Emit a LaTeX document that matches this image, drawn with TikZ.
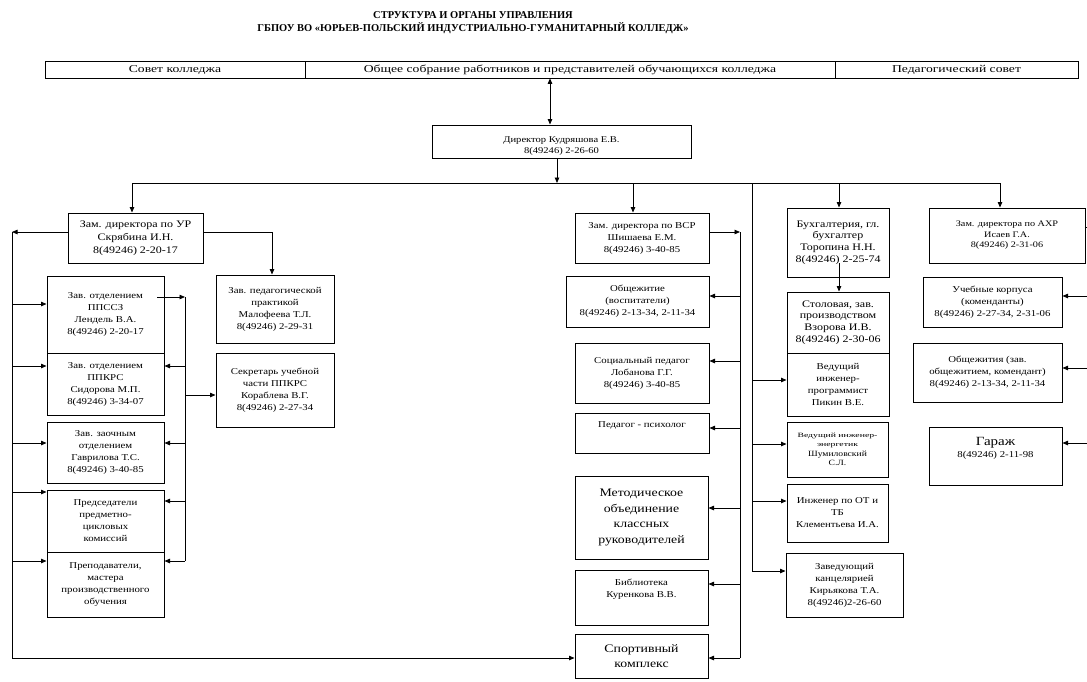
\documentclass[tikz,border=0pt]{standalone}
\usepackage{fontspec}
\setmainfont[FakeStretch=1.2]{Liberation Serif}
\newfontfamily\barff[FakeStretch=1.3]{Liberation Serif}
\newfontfamily\ttlff{Liberation Serif}
\newfontfamily\wideff[FakeStretch=1.5]{Liberation Serif}
\usetikzlibrary{arrows.meta}
\newcommand{\fA}{\fontsize{9}{12}\selectfont}
\newcommand{\fS}{\fontsize{8}{10.5}\selectfont}
\newcommand{\fL}{\fontsize{11.5}{15.5}\selectfont}
\newcommand{\fM}{\fontsize{10}{13}\selectfont}
\newcommand{\fB}{\fontsize{10}{11.7}\selectfont}
\newcommand{\fT}{\wideff\fontsize{6.5}{9.5}\selectfont}
\begin{document}
\begin{tikzpicture}[x=1pt,y=-1pt,
  >={Triangle[length=5.5pt,width=4.5pt]},
  line width=0.8pt,
  box/.style={draw, line width=1pt, align=center, inner sep=1pt, font=\fA},
  bar/.style={draw, line width=0.7pt, minimum height=17pt, inner sep=0pt, text depth=1pt, font=\barff\fontsize{10.5}{12}\selectfont},
  ttl/.style={font=\ttlff\bfseries\fontsize{10.5}{12}\selectfont, inner sep=0pt}]
\useasboundingbox[fill=white] (0,0) rectangle (1087,681);

% title
\node[ttl] (t1) at (473,15) {СТРУКТУРА И ОРГАНЫ УПРАВЛЕНИЯ};
\node[ttl] (t2) at (473,28) {ГБПОУ ВО «ЮРЬЕВ-ПОЛЬСКИЙ ИНДУСТРИАЛЬНО-ГУМАНИТАРНЫЙ КОЛЛЕДЖ»};

% top bar
\node[bar, minimum width=260pt] (sovet) at (175,69.5) {Совет колледжа};
\node[bar, minimum width=530pt] (obshee) at (570,69.5) {Общее собрание работников и представителей обучающихся колледжа};
\node[bar, minimum width=243pt] (pedsov) at (956.5,69.5) {Педагогический совет};

% director
\node[box, minimum width=259pt, minimum height=33pt, font=\fontsize{8.8}{11}\selectfont] (dir) at (561.5,141.5) {\rule{0pt}{15pt}Директор Кудряшова Е.В.\\8(49246) 2-26-60};
\draw[<->] (obshee.south -| 550,0) -- (dir.north -| 550,0);

% bus
\coordinate (busL) at (132,183);
\coordinate (busR) at (1000,183);
\coordinate (busD) at (557,183);
\coordinate (busV) at (633,183);
\coordinate (busB) at (839,183);
\coordinate (busK) at (752,183);
\draw (busL) -- (busR);
\draw[->] (dir.south -| busD) -- (busD);

% left branch
\node[box, minimum width=135pt, minimum height=50pt, font=\fM] (ur) at (135.5,238) {Зам. директора по УР\\Скрябина И.Н.\\8(49246) 2-20-17};
\draw[->] (busL) -- (ur.north -| busL);

\node[box, minimum width=117pt, minimum height=77pt] (ppssz) at (105.5,314.5) {Зав. отделением\\ППССЗ\\Лендель В.А.\\8(49246) 2-20-17};
\node[box, minimum width=117pt, minimum height=62pt] (ppkrs) at (105.5,384) {Зав. отделением\\ППКРС\\Сидорова М.П.\\8(49246) 3-34-07};
\node[box, minimum width=117pt, minimum height=61pt] (zaoch) at (105.5,452.5) {Зав. заочным\\отделением\\Гаврилова Т.С.\\8(49246) 3-40-85};
\node[box, minimum width=117pt, minimum height=62pt] (pred) at (105.5,521) {Председатели\\предметно-\\цикловых\\комиссий};
\node[box, minimum width=117pt, minimum height=65pt] (prep) at (105.5,584.5) {Преподаватели,\\мастера\\производственного\\обучения};

\node[box, minimum width=118pt, minimum height=68pt] (prak) at (275,309) {Зав. педагогической\\практикой\\Малофеева Т.Л.\\8(49246) 2-29-31};
\node[box, minimum width=118pt, minimum height=74pt] (sekr) at (275,390) {Секретарь учебной\\части ППКРС\\Кораблева В.Г.\\8(49246) 2-27-34};

\coordinate (L1) at (12,232);
\coordinate (L2) at (12,658);
\draw[->] (ur.west |- L1) -- (L1);
\draw (L1) -- (L2);
\foreach \n/\y in {ppssz/304, ppkrs/366, zaoch/443, pred/492, prep/561}
  \draw[->] (12,\y) -- (\n.west |- 0,\y);

\coordinate (R0) at (157,297);
\coordinate (R1) at (185,297);
\coordinate (R2) at (185,561);
\draw[->] (R0) -- (R1);
\draw (R1) -- (R2);
\foreach \n/\y in {ppkrs/366, zaoch/443, pred/501, prep/561}
  \draw[->] (185,\y) -- (\n.east |- 0,\y);
\draw[->] (185,395) -- (sekr.west |- 0,395);
\draw[->] (ur.east |- 0,232) -- (272,232) -- (prak.north -| 272,0);

% middle branch
\node[box, minimum width=134pt, minimum height=50pt] (vsr) at (642,238) {Зам. директора по ВСР\\Шишаева Е.М.\\8(49246) 3-40-85};
\draw[->] (busV) -- (vsr.north -| busV);
\node[box, minimum width=143pt, minimum height=51pt] (obsh) at (637.5,301.5) {Общежитие\\(воспитатели)\\8(49246) 2-13-34, 2-11-34};
\node[box, minimum width=134pt, minimum height=60pt] (soc) at (642,373) {Социальный педагог\\Лобанова Г.Г.\\8(49246) 3-40-85};
\node[box, minimum width=134pt, minimum height=40pt] (psy) at (642,433) {Педагог - психолог\\\rule{0pt}{15pt}};
\node[box, minimum width=133pt, minimum height=83pt, font=\fL] (metod) at (641.5,517.5) {Методическое\\объединение\\классных\\руководителей};
\node[box, minimum width=133pt, minimum height=55pt] (bibl) at (641.5,597.5) {Библиотека\\Куренкова В.В.\\\rule{0pt}{15pt}};
\node[box, minimum width=133pt, minimum height=44pt, font=\fL] (sport) at (641.5,656) {Спортивный\\комплекс};

\draw[->] (L2) -- (sport.west |- L2);

\coordinate (M1) at (740,232);
\coordinate (M2) at (740,658);
\draw[->] (vsr.east |- M1) -- (M1);
\draw (M1) -- (M2);
\foreach \n/\y in {obsh/296, soc/361, psy/428, metod/508, bibl/584, sport/658}
  \draw[->] (740,\y) -- (\n.east |- 0,\y);

% column 3
\node[box, minimum width=102pt, minimum height=69pt, font=\fB] (buh) at (838,242.5) {Бухгалтерия, гл.\\бухгалтер\\Торопина Н.Н.\\8(49246) 2-25-74};
\node[box, minimum width=102pt, minimum height=61pt, font=\fB] (stol) at (838,322.5) {Столовая, зав.\\производством\\Взорова И.В.\\8(49246) 2-30-06};
\node[box, minimum width=102pt, minimum height=63pt] (prog) at (838,384.5) {Ведущий\\инженер-\\программист\\Пикин В.Е.};
\node[box, minimum width=101pt, minimum height=55pt, font=\fT] (energ) at (837.5,449.5) {Ведущий инженер-\\энергетик\\{\rmfamily\fS Шумиловский}\\{\rmfamily\fS С.Л.}};
\node[box, minimum width=101pt, minimum height=58pt] (ot) at (837.5,513) {Инженер по ОТ и\\ТБ\\Клементьева И.А.};
\node[box, minimum width=117pt, minimum height=64pt] (kanc) at (844.5,585) {Заведующий\\канцелярией\\Кирьякова Т.А.\\8(49246)2-26-60};

\draw[->] (busB) -- (buh.north -| busB);
\draw[->] (839,263) -- (stol.north -| 839,0);
\coordinate (K2) at (752,571);
\draw (busK) -- (K2);
\foreach \n/\y in {prog/380, energ/444, ot/501, kanc/571}
  \draw[->] (752,\y) -- (\n.west |- 0,\y);

% right branch
\node[box, minimum width=156pt, minimum height=55pt, font=\fontsize{8.5}{10.5}\selectfont] (ahr) at (1007,235.5) {Зам. директора по АХР\\Исаев Г.А.\\8(49246) 2-31-06};
\draw[->] (busR) -- (ahr.north -| busR);
\node[box, minimum width=139pt, minimum height=50pt] (uch) at (992.5,302) {Учебные корпуса\\(коменданты)\\8(49246) 2-27-34, 2-31-06};
\node[box, minimum width=149pt, minimum height=59pt] (obshz) at (987.5,372.5) {Общежития (зав.\\общежитием, комендант)\\8(49246) 2-13-34, 2-11-34};
\node[box, minimum width=133pt, minimum height=58pt] (garazh) at (995.5,456) {{\fontsize{12.5}{14}\selectfont Гараж}\\8(49246) 2-11-98\\\rule{0pt}{14pt}};
\coordinate (E0) at (1087,227);
\draw (ahr.east |- E0) -- (E0);
\foreach \n/\y in {uch/296, obshz/368, garazh/443}
  \draw[->] (1087,\y) -- (\n.east |- 0,\y);
\end{tikzpicture}
\end{document}
